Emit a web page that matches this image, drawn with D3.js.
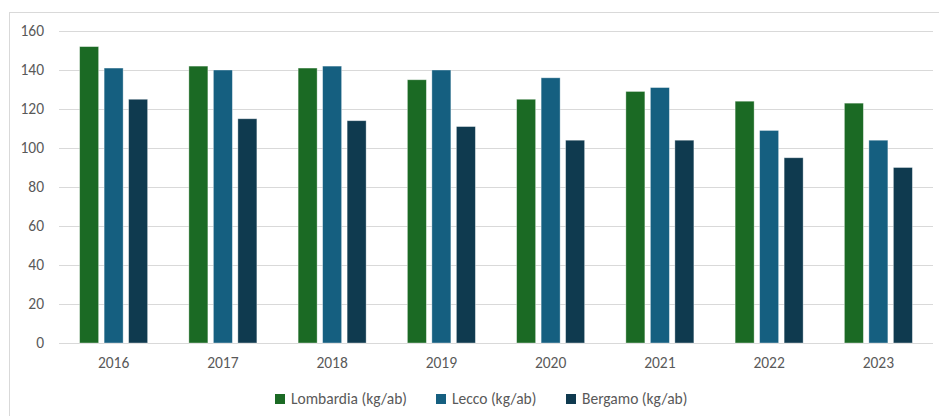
<!DOCTYPE html>
<html>
<head>
<meta charset="utf-8">
<script src="https://cdn.jsdelivr.net/npm/d3@7"></script>
<style>
  html, body { margin: 0; padding: 0; background: #fff; }
  svg { display: block; font-family: Carlito, Lato, "Liberation Sans", sans-serif; }
</style>
</head>
<body>
<svg id="chart" width="939" height="416"></svg>
<script>
// Rifiuti urbani pro capite (kg/ab)
const years = ["2016", "2017", "2018", "2019", "2020", "2021", "2022", "2023"];
const seriesNames = ["Lombardia (kg/ab)", "Lecco (kg/ab)", "Bergamo (kg/ab)"];
const lombardia = [152, 142, 141, 135, 125, 129, 124, 123];
const lecco = [141, 140, 142, 140, 136, 131, 109, 104];
const bergamo = [125, 115, 114, 111, 104, 104, 95, 90];
const yTicks = [0, 20, 40, 60, 80, 100, 120, 140, 160];
const colors = ["#1b6a24", "#155f80", "#0f3a4f"];

const seriesValues = [lombardia, lecco, bergamo];
const fontSize = "15.5px";

const svg = d3.select("#chart");
const W = 939, H = 416;
const plot = { left: 59, right: 933, top: 31, bottom: 343 };

// chart frame
svg.append("rect")
  .attr("x", 9.5).attr("y", 12.5)
  .attr("width", W + 10).attr("height", H + 10)
  .attr("fill", "none").attr("stroke", "#d9d9d9").attr("stroke-width", 1);

const x = d3.scaleBand().domain(years).range([plot.left, plot.right]).padding(0);
const y = d3.scaleLinear().domain([0, 160]).range([plot.bottom, plot.top]);

const barW = 19, gap = 5.5;
const groupW = barW * 3 + gap * 2;
const x1 = d3.scaleBand().domain(seriesNames).range([0, groupW]).paddingInner(gap / (barW + gap)).paddingOuter(0);

// gridlines
svg.append("g")
  .selectAll("line")
  .data(yTicks)
  .join("line")
  .attr("x1", plot.left).attr("x2", plot.right)
  .attr("y1", d => Math.round(y(d)) + 0.5).attr("y2", d => Math.round(y(d)) + 0.5)
  .attr("stroke", "#d9d9d9").attr("stroke-width", 1);

// y axis labels
const yAxis = d3.axisLeft(y).tickValues(yTicks).tickSize(0).tickPadding(0);
const gy = svg.append("g").attr("transform", `translate(${44},0)`).call(yAxis);
gy.select(".domain").remove();
gy.selectAll("text").attr("fill", "#595959").style("font-size", fontSize).style("font-family", "Carlito, Lato, sans-serif");

// x axis labels
const xAxis = d3.axisBottom(x).tickSize(0).tickPadding(0);
const gx = svg.append("g").attr("transform", `translate(0,${357})`).call(xAxis);
gx.select(".domain").remove();
gx.selectAll("text").attr("fill", "#595959").style("font-size", fontSize).style("font-family", "Carlito, Lato, sans-serif");

// bars
const groups = svg.append("g")
  .selectAll("g")
  .data(years)
  .join("g")
  .attr("transform", d => `translate(${x(d) + (x.bandwidth() - groupW) / 2},0)`);

groups.selectAll("rect")
  .data((d, i) => seriesNames.map((s, k) => ({ s, k, v: seriesValues[k][i] })))
  .join("rect")
  .attr("x", d => x1(d.s))
  .attr("width", x1.bandwidth())
  .attr("y", d => y(d.v))
  .attr("height", d => y(0) - y(d.v))
  .attr("fill", d => colors[d.k])
  .attr("stroke", "#ffffff").attr("stroke-opacity", 0.45).attr("stroke-width", 0.8);

// legend
const legendX = [275, 436, 566];
const legend = svg.append("g")
  .selectAll("g")
  .data(seriesNames)
  .join("g")
  .attr("transform", (d, i) => `translate(${legendX[i]},${399})`);
legend.append("rect")
  .attr("x", 0).attr("y", -5).attr("width", 10).attr("height", 10)
  .attr("fill", (d, i) => colors[i]);
legend.append("text")
  .attr("x", 16).attr("y", 0).attr("dy", "0.35em")
  .attr("fill", "#595959").style("font-size", fontSize)
  .text(d => d);
</script>
</body>
</html>
